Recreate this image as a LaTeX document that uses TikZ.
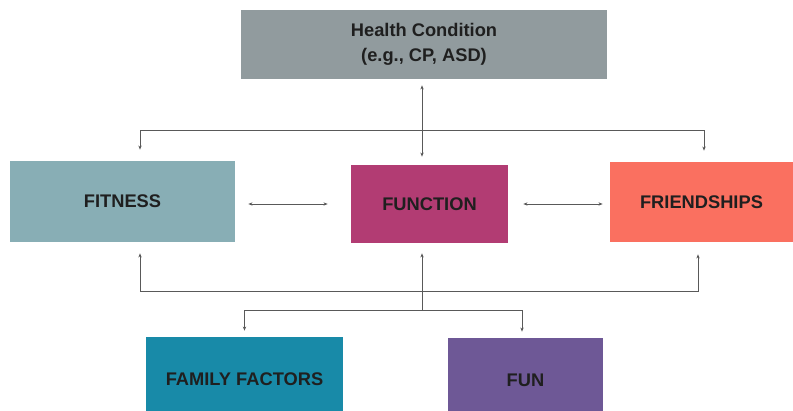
\documentclass[tikz,border=0pt]{standalone}
\usepackage{fontspec}
\setmainfont{Liberation Sans}
\usetikzlibrary{positioning, arrows.meta, calc}

\definecolor{healthgray}{RGB}{145,155,158}
\definecolor{fitnessteal}{RGB}{136,174,181}
\definecolor{functionpink}{RGB}{178,60,115}
\definecolor{friendsalmon}{RGB}{250,112,96}
\definecolor{familyblue}{RGB}{24,138,168}
\definecolor{funpurple}{RGB}{110,88,150}

\begin{document}
\begin{tikzpicture}[x=0.025cm,y=-0.025cm,font=\bfseries\fontsize{13}{17.5}\selectfont,
  factor/.style={text=black!88, align=center, inner sep=0pt},
  link/.style={draw=black!65, line width=0.6pt},
  tip/.style={-{Stealth[length=3pt,width=2.4pt]}},
  tips/.style={{Stealth[length=3pt,width=2.4pt]}-{Stealth[length=3pt,width=2.4pt]}}]

\useasboundingbox (0,0) rectangle (793,411);

% Define factors
\node[factor,fill=healthgray,minimum width=9.15cm,minimum height=1.725cm] (health) at (424,44.5) {Health Condition\\(e.g., CP, ASD)};
\node[factor,fill=fitnessteal,minimum width=5.625cm,minimum height=2.025cm] (fitness) at (122.5,201.5) {FITNESS};
\node[factor,fill=functionpink,minimum width=3.925cm,minimum height=1.95cm] (function) at (429.5,204) {FUNCTION};
\node[factor,fill=friendsalmon,minimum width=4.575cm,minimum height=2cm] (friendships) at (701.5,202) {FRIENDSHIPS};
\node[factor,fill=familyblue,minimum width=4.925cm,minimum height=2.125cm] (family) at (244.5,379.5) {FAMILY FACTORS};
\node[factor,fill=funpurple,minimum width=3.875cm,minimum height=2.1cm] (fun) at (525.5,380) {FUN};

% Bus points
\coordinate (topbus) at (422,130);
\coordinate (midbus) at (422,291);
\coordinate (lowbus) at (422,310);

% Health condition to function
\draw[link,tips,shorten <=0.15cm,shorten >=0.2cm] (health.south -| topbus) -- (function.north -| topbus);
\draw[link,tip,shorten >=0.275cm] (topbus) -| ([xshift=0.4375cm]fitness.north);
\draw[link,tip,shorten >=0.275cm] (topbus) -| ([xshift=0.0625cm]friendships.north);

% Side links
\draw[link,tips,shorten <=0.325cm,shorten >=0.575cm] (function.west -| fitness.east) -- (function.west);
\draw[link,tips,shorten <=0.375cm,shorten >=0.175cm] (function.east) -- (function.east -| friendships.west);

% Lower bus
\draw[link,tip,shorten >=0.275cm] (midbus) -| ([xshift=0.4375cm]fitness.south);
\draw[link,tip,shorten >=0.3cm] (midbus) -| ([xshift=-0.0875cm]friendships.south);
\draw[link,tip,shorten >=0.25cm] (midbus) -- (function.south -| midbus);
\draw[link] (midbus) -- (lowbus);
\draw[link,tip,shorten >=0.15cm] (lowbus) -| (family.north);
\draw[link,tip,shorten >=0.15cm] (lowbus) -| ([xshift=-0.0875cm]fun.north);
\end{tikzpicture}
\end{document}
